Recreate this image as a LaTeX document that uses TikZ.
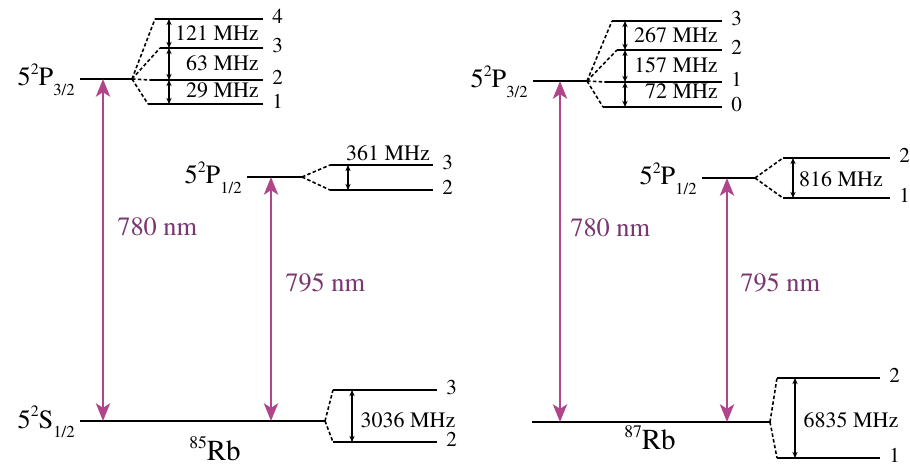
\documentclass[tikz,border=0pt]{standalone}
\usepackage[T1]{fontenc}
\usepackage{mathptmx}
\usetikzlibrary{arrows.meta}
\definecolor{lasercolor}{HTML}{B0458C}
\definecolor{wavecolor}{HTML}{7A3670}
\newcommand{\term}[2]{5\raisebox{0.42em}{\fontsize{9}{9}\selectfont 2}#1\raisebox{-0.35em}{\fontsize{9.5}{9}\selectfont #2}}

\begin{document}
\begin{tikzpicture}[
  x=0.02cm, y=-0.02cm,
  statelevel/.style={line width=1.7pt},
  hfslevel/.style={line width=1.45pt},
  fan/.style={line width=0.9pt, dash pattern=on 2pt off 1.3pt},
  laser/.style={draw=lasercolor, line width=1.7pt,
    {Stealth[length=10pt, width=8pt, inset=2.5pt]}-{Stealth[length=10pt, width=8pt, inset=2.5pt]}},
  hfsgap/.style={line width=0.8pt,
    {Stealth[length=3.5pt, width=3pt]}-{Stealth[length=3.5pt, width=3pt]}},
  termlabel/.style={font=\fontsize{15}{17}\selectfont, anchor=base east,
    inner sep=0pt, xshift=-0.1cm, yshift=-0.14cm},
  flabel/.style={font=\fontsize{12}{13}\selectfont, anchor=west,
    inner sep=0pt, xshift=0.18cm, yshift=0.05cm},
  freqlabel/.style={font=\fontsize{12.5}{14}\selectfont, inner sep=0pt},
  wavelabel/.style={font=\fontsize{15}{17}\selectfont, text=wavecolor,
    anchor=west, inner sep=0pt},
  isolabel/.style={font=\fontsize{16.5}{19}\selectfont, anchor=base, inner sep=0pt}
]
\useasboundingbox (0,0) rectangle (910,466);

% ================= 85Rb =================
% 5^2P_{3/2}
\coordinate (aP3L) at (80,79);
\coordinate (aP3R) at (132,79);
\draw[statelevel] (aP3L) -- (aP3R);
\node[termlabel] (aP3lab) at (aP3L) {\term{P}{3/2}};

% F' = 4,3,2,1
\coordinate (aF4) at (155,19);  \coordinate (aF4e) at (263,19);
\coordinate (aF3) at (160,48);  \coordinate (aF3e) at (263,48);
\coordinate (aF2) at (150,80);  \coordinate (aF2e) at (263,80);
\coordinate (aF1) at (148,104); \coordinate (aF1e) at (263,104);
\draw[hfslevel] (aF4) -- (aF4e);
\draw[hfslevel] (aF3) -- (aF3e);
\draw[hfslevel] (aF2) -- (aF2e);
\draw[hfslevel] (aF1) -- (aF1e);
\draw[fan] (aP3R) -- (aF4);
\draw[fan] (aP3R) -- (aF3);
\draw[fan] (aP3R) -- (aF2);
\draw[fan] (aP3R) -- (aF1);
\node[flabel] (aF4lab) at (aF4e) {4};
\node[flabel] (aF3lab) at (aF3e) {3};
\node[flabel] (aF2lab) at (aF2e) {2};
\node[flabel] (aF1lab) at (aF1e) {1};

% splittings
\coordinate (aBar) at (169,0);
\draw[hfsgap] (aBar |- aF4) -- (aBar |- aF3);
\draw[hfsgap] (aBar |- aF3) -- (aBar |- aF2);
\draw[hfsgap] (aBar |- aF2) -- (aBar |- aF1);
\node[freqlabel, anchor=east] (aG43) at (259,33) {121 MHz};
\node[freqlabel, anchor=east] (aG32) at (259,63) {63 MHz};
\node[freqlabel, anchor=east] (aG21) at (259,90) {29 MHz};

% 5^2P_{1/2}
\coordinate (aP1L) at (247,177);
\coordinate (aP1R) at (302,177);
\draw[statelevel] (aP1L) -- (aP1R);
\node[termlabel] (aP1lab) at (aP1L) {\term{P}{1/2}};

\coordinate (aH3) at (330,165); \coordinate (aH3e) at (433,165);
\coordinate (aH2) at (330,190); \coordinate (aH2e) at (433,190);
\draw[hfslevel] (aH3) -- (aH3e);
\draw[hfslevel] (aH2) -- (aH2e);
\draw[fan] (aP1R) -- (aH3);
\draw[fan] (aP1R) -- (aH2);
\node[flabel] (aH3lab) at (aH3e) {3};
\node[flabel] (aH2lab) at (aH2e) {2};
\coordinate (aBarP1) at (348,0);
\draw[hfsgap] (aBarP1 |- aH3) -- (aBarP1 |- aH2);
\node[freqlabel, anchor=base] (aG361) at (388,161) {361 MHz};

% 5^2S_{1/2}
\coordinate (aS1L) at (80,421);
\coordinate (aS1R) at (325,421);
\draw[statelevel] (aS1L) -- (aS1R);
\node[termlabel] (aS1lab) at (aS1L) {\term{S}{1/2}};

\coordinate (aK3) at (333,390); \coordinate (aK3e) at (437,390);
\coordinate (aK2) at (333,442); \coordinate (aK2e) at (437,442);
\draw[hfslevel] (aK3) -- (aK3e);
\draw[hfslevel] (aK2) -- (aK2e);
\draw[fan] (aS1R) -- (aK3);
\draw[fan] (aS1R) -- (aK2);
\node[flabel] (aK3lab) at (aK3e) {3};
\node[flabel] (aK2lab) at (aK2e) {2};
\coordinate (aBarS1) at (352,0);
\draw[hfsgap] (aBarS1 |- aK3) -- (aBarS1 |- aK2);
\node[freqlabel] (aG3036) at (408,420) {3036 MHz};

% D2 / D1 lines
\coordinate (aD2) at (103,0);
\coordinate (aD1) at (271,0);
\draw[laser] (aD2 |- aP3L) -- (aD2 |- aS1L);
\draw[laser] (aD1 |- aP1L) -- (aD1 |- aS1L);
\node[wavelabel] (aW780) at (117,227) {780 nm};
\node[wavelabel] (aW795) at (285,283) {795 nm};

\node[isolabel] (aIso) at (215,460) {\raisebox{0.4em}{\fontsize{10}{10}\selectfont 85}Rb};

% ================= 87Rb =================
% 5^2P_{3/2}
\coordinate (bP3L) at (533,81);
\coordinate (bP3R) at (587,81);
\draw[statelevel] (bP3L) -- (bP3R);
\node[termlabel] (bP3lab) at (bP3L) {\term{P}{3/2}};

% F' = 3,2,1,0
\coordinate (bF3) at (612,21);  \coordinate (bF3e) at (722,21);
\coordinate (bF2) at (617,50);  \coordinate (bF2e) at (722,50);
\coordinate (bF1) at (605,82);  \coordinate (bF1e) at (722,82);
\coordinate (bF0) at (603,107); \coordinate (bF0e) at (722,107);
\draw[hfslevel] (bF3) -- (bF3e);
\draw[hfslevel] (bF2) -- (bF2e);
\draw[hfslevel] (bF1) -- (bF1e);
\draw[hfslevel] (bF0) -- (bF0e);
\draw[fan] (bP3R) -- (bF3);
\draw[fan] (bP3R) -- (bF2);
\draw[fan] (bP3R) -- (bF1);
\draw[fan] (bP3R) -- (bF0);
\node[flabel] (bF3lab) at (bF3e) {3};
\node[flabel] (bF2lab) at (bF2e) {2};
\node[flabel] (bF1lab) at (bF1e) {1};
\node[flabel] (bF0lab) at (bF0e) {0};

\coordinate (bBar) at (625,0);
\draw[hfsgap] (bBar |- bF3) -- (bBar |- bF2);
\draw[hfsgap] (bBar |- bF2) -- (bBar |- bF1);
\draw[hfsgap] (bBar |- bF1) -- (bBar |- bF0);
\node[freqlabel, anchor=east] (bG32) at (718,35) {267 MHz};
\node[freqlabel, anchor=east] (bG21) at (718,65) {157 MHz};
\node[freqlabel, anchor=east] (bG10) at (718,91) {72 MHz};

% 5^2P_{1/2}
\coordinate (bP1L) at (702,178);
\coordinate (bP1R) at (755,178);
\draw[statelevel] (bP1L) -- (bP1R);
\node[termlabel] (bP1lab) at (bP1L) {\term{P}{1/2}};

\coordinate (bH2) at (783,158); \coordinate (bH2e) at (890,158);
\coordinate (bH1) at (783,198); \coordinate (bH1e) at (890,198);
\draw[hfslevel] (bH2) -- (bH2e);
\draw[hfslevel] (bH1) -- (bH1e);
\draw[fan] (bP1R) -- (bH2);
\draw[fan] (bP1R) -- (bH1);
\node[flabel] (bH2lab) at (bH2e) {2};
\node[flabel] (bH1lab) at (bH1e) {1};
\coordinate (bBarP1) at (793,0);
\draw[hfsgap] (bBarP1 |- bH2) -- (bBarP1 |- bH1);
\node[freqlabel] (bG816) at (841,179) {816 MHz};

% 5^2S_{1/2}
\coordinate (bS1L) at (532,422);
\coordinate (bS1R) at (770,422);
\draw[statelevel] (bS1L) -- (bS1R);

\coordinate (bK2) at (777,378); \coordinate (bK2e) at (880,378);
\coordinate (bK1) at (777,458); \coordinate (bK1e) at (880,458);
\draw[hfslevel] (bK2) -- (bK2e);
\draw[hfslevel] (bK1) -- (bK1e);
\draw[fan] (bS1R) -- (bK2);
\draw[fan] (bS1R) -- (bK1);
\node[flabel] (bK2lab) at (bK2e) {2};
\node[flabel] (bK1lab) at (bK1e) {1};
\coordinate (bBarS1) at (795,0);
\draw[hfsgap] (bBarS1 |- bK2) -- (bBarS1 |- bK1);
\node[freqlabel] (bG6835) at (851,420) {6835 MHz};

% D2 / D1 lines
\coordinate (bD2) at (560,0);
\coordinate (bD1) at (727,0);
\draw[laser] (bD2 |- bP3L) -- (bD2 |- bS1L);
\draw[laser] (bD1 |- bP1L) -- (bD1 |- bS1L);
\node[wavelabel] (bW780) at (570,228) {780 nm};
\node[wavelabel] (bW795) at (740,283) {795 nm};

\node[isolabel] (bIso) at (650,449) {\raisebox{0.4em}{\fontsize{10}{10}\selectfont 87}Rb};

\end{tikzpicture}
\end{document}
